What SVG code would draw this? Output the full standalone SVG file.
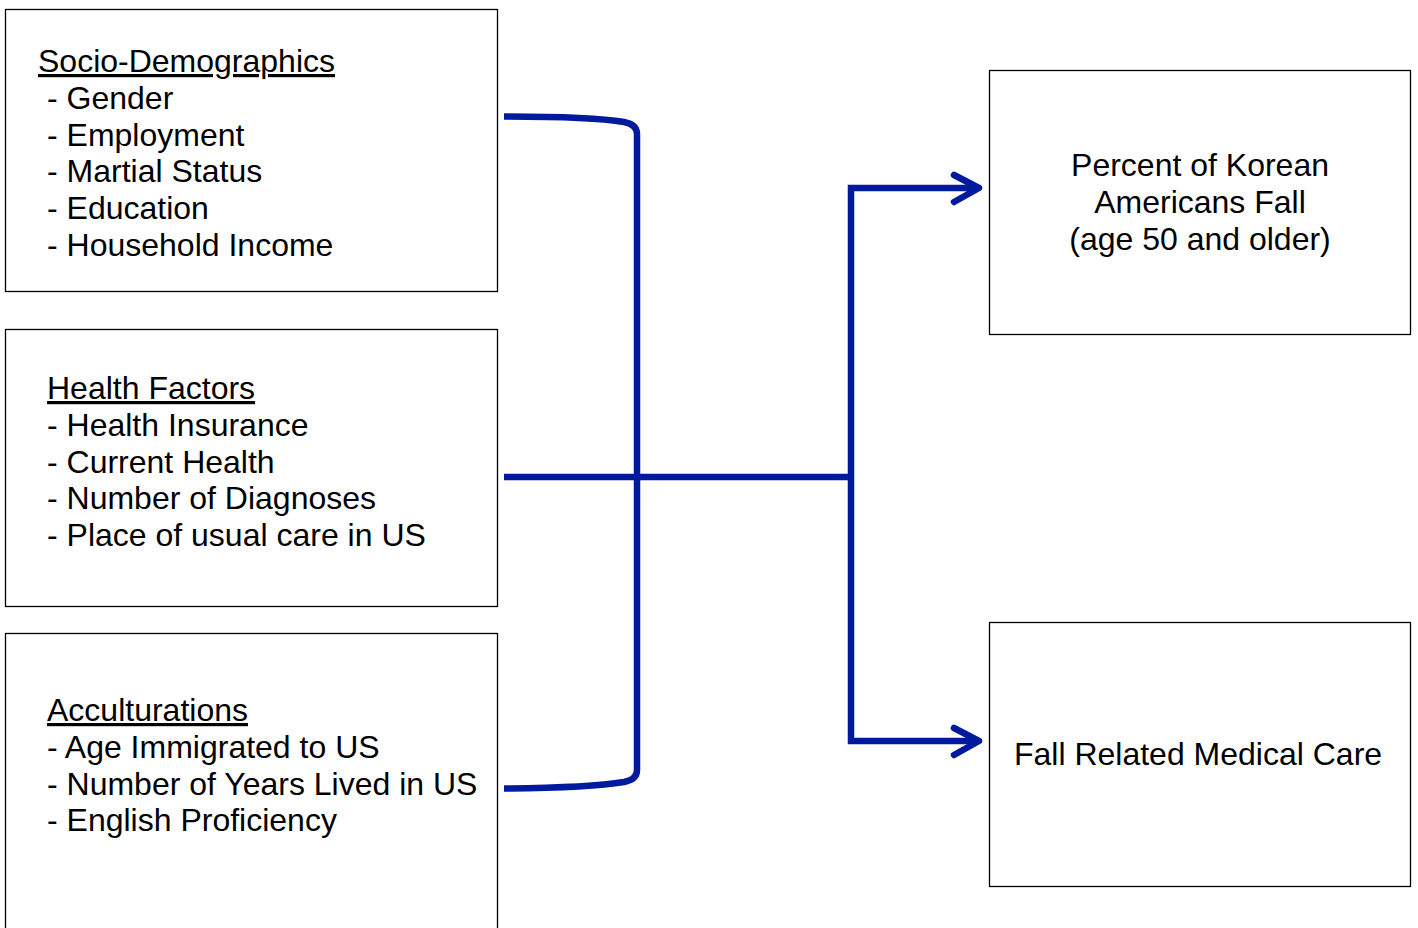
<svg xmlns="http://www.w3.org/2000/svg" width="1418" height="928" viewBox="0 0 1418 928">
<style>
.box{fill:#fff;stroke:#000;stroke-width:1.3}
.t{font-family:"Liberation Sans",Arial,sans-serif;font-size:32px;fill:#000}
.h{text-decoration:underline}
.c{text-anchor:middle}
.con{fill:none;stroke:#001a9e;stroke-width:6.5}
</style>
<rect width="1418" height="928" fill="#fff"/>
<g id="socio">
<rect class="box" x="5.5" y="9.5" width="492" height="282"/>
<text class="t h" x="38" y="72">Socio-Demographics</text>
<text class="t" x="47" y="109">- Gender</text>
<text class="t" x="47" y="146">- Employment</text>
<text class="t" x="47" y="182">- Martial Status</text>
<text class="t" x="47" y="219">- Education</text>
<text class="t" x="47" y="256">- Household Income</text>
</g>
<g id="health">
<rect class="box" x="5.5" y="329.5" width="492" height="277"/>
<text class="t h" x="47" y="399">Health Factors</text>
<text class="t" x="47" y="436">- Health Insurance</text>
<text class="t" x="47" y="473">- Current Health</text>
<text class="t" x="47" y="509">- Number of Diagnoses</text>
<text class="t" x="47" y="546">- Place of usual care in US</text>
</g>
<g id="accult">
<rect class="box" x="5.5" y="633.5" width="492" height="300"/>
<text class="t h" x="47" y="721">Acculturations</text>
<text class="t" x="47" y="758">- Age Immigrated to US</text>
<text class="t" x="47" y="795">- Number of Years Lived in US</text>
<text class="t" x="47" y="831">- English Proficiency</text>
</g>
<g id="falls">
<rect class="box" x="989.5" y="70.5" width="421" height="264"/>
<text class="t c" x="1200" y="176">Percent of Korean</text>
<text class="t c" x="1200" y="213">Americans Fall</text>
<text class="t c" x="1200" y="250">(age 50 and older)</text>
</g>
<g id="care">
<rect class="box" x="989.5" y="622.5" width="421" height="264"/>
<text class="t c" x="1198" y="765">Fall Related Medical Care</text>
</g>
<g id="connectors">
<path class="con" d="M504,116.5 C560,116.5 600,118 624,122 Q637,124.5 637,134 L637,770 Q637,779.5 624,782 C600,786 560,788 504,788.5"/>
<path class="con" d="M504,477 L851,477"/>
<path class="con" stroke-linejoin="miter" d="M978,188 L851,188 L851,741 L978,741"/>
<path class="con" stroke-linecap="round" stroke-linejoin="round" d="M954,175 L979,188 L954,202"/>
<path class="con" stroke-linecap="round" stroke-linejoin="round" d="M954,728 L979,741 L954,755"/>
</g>
</svg>
